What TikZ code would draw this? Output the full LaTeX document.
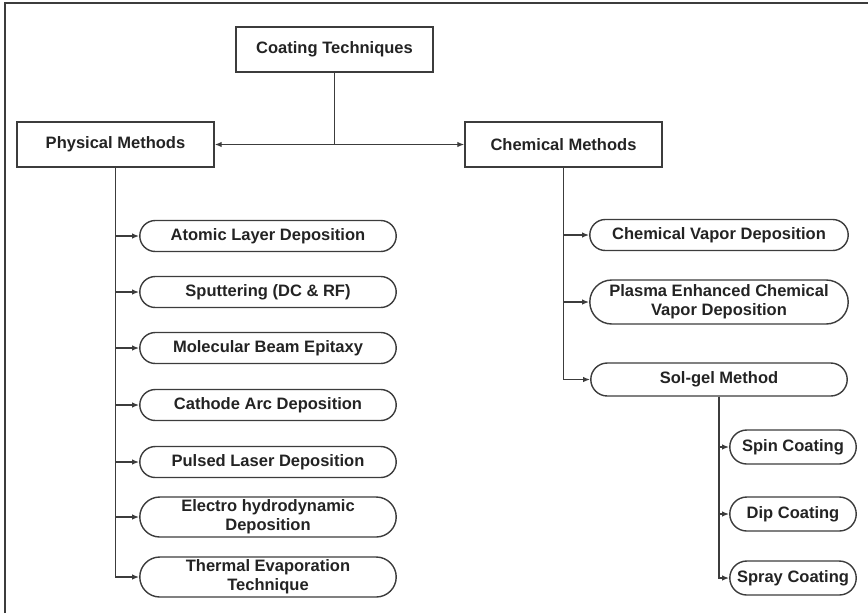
\documentclass[tikz,border=0pt]{standalone}
\usepackage{fontspec}
\setmainfont{Liberation Sans}
\usetikzlibrary{shapes.misc,arrows.meta}

\definecolor{linegray}{RGB}{60,60,60}
\definecolor{txtgray}{RGB}{35,35,35}

\tikzstyle{line} = [line width=0.8pt, draw=linegray]
\tikzstyle{arw} = [line, -{Latex[length=4pt,width=3.2pt]}]
\tikzstyle{mainbox} = [line, rectangle, minimum width=3.94cm, minimum height=0.9cm, text=txtgray, font=\fontsize{9.4}{11}\selectfont\bfseries]
\tikzstyle{techbox} = [line, rounded rectangle, minimum width=5.2cm, minimum height=0.62cm, inner sep=1pt, align=center, text=txtgray, font=\fontsize{9.4}{11}\selectfont\bfseries]
\tikzstyle{subbox} = [techbox, minimum width=2.6cm, minimum height=0.68cm]

\begin{document}
\begin{tikzpicture}[x=0.02cm, y=-0.02cm]

    \useasboundingbox (0,0) rectangle (868,613);
    \draw [line] (5,613) -- (5,3) -- (868,3);

\node[mainbox] (ct) at (334.5,49.5) {Coating Techniques};
\node[mainbox] (pm) at (115.5,144.5) {Physical Methods};
\node[mainbox] (cm) at (563.5,144.5) {Chemical Methods};
\coordinate (split) at (ct |- pm);

\node[techbox] (ald) at (268,236) {Atomic Layer Deposition};
\node[techbox] (sput) at (268,292) {Sputtering (DC \& RF)};
\node[techbox] (mbe) at (268,348) {Molecular Beam Epitaxy};
\node[techbox] (cad) at (268,405) {Cathode Arc Deposition};
\node[techbox] (pld) at (268,462) {Pulsed Laser Deposition};
\node[techbox, minimum height=0.8cm] (ehd) at (268,517) {Electro hydrodynamic\\Deposition};
\node[techbox, minimum height=0.8cm] (tet) at (268,577) {Thermal Evaporation\\Technique};

\node[techbox, minimum width=5.24cm] (cvd) at (719,235) {Chemical Vapor Deposition};
\node[techbox, minimum width=5.24cm, minimum height=0.88cm] (pecvd) at (719,302) {Plasma Enhanced Chemical\\Vapor Deposition};
\node[techbox, minimum width=5.2cm, minimum height=0.66cm] (sg) at (719,379.5) {Sol-gel Method};

\node[subbox] (spin) at (793,447) {Spin Coating};
\node[subbox] (dip) at (793,514) {Dip Coating};
\node[subbox] (spray) at (793,578) {Spray Coating};

    \draw[line] (ct) -- (split);
    \draw[arw] (split) -- (pm);
    \draw[arw] (split) -- (cm);

    \draw[arw] (pm.south) |- (ald);
    \draw[arw] (pm.south) |- (sput);
    \draw[arw] (pm.south) |- (mbe);
    \draw[arw] (pm.south) |- (cad);
    \draw[arw] (pm.south) |- (pld);
    \draw[arw] (pm.south) |- (ehd);
    \draw[arw] (pm.south) |- (tet);

    \draw[arw] (cm.south) |- (cvd);
    \draw[arw] (cm.south) |- (pecvd);
    \draw[arw] (cm.south) |- (sg);

    \draw[arw] (sg.south) |- (spin);
    \draw[arw] (sg.south) |- (dip);
    \draw[arw] (sg.south) |- (spray);

\end{tikzpicture}
\end{document}
